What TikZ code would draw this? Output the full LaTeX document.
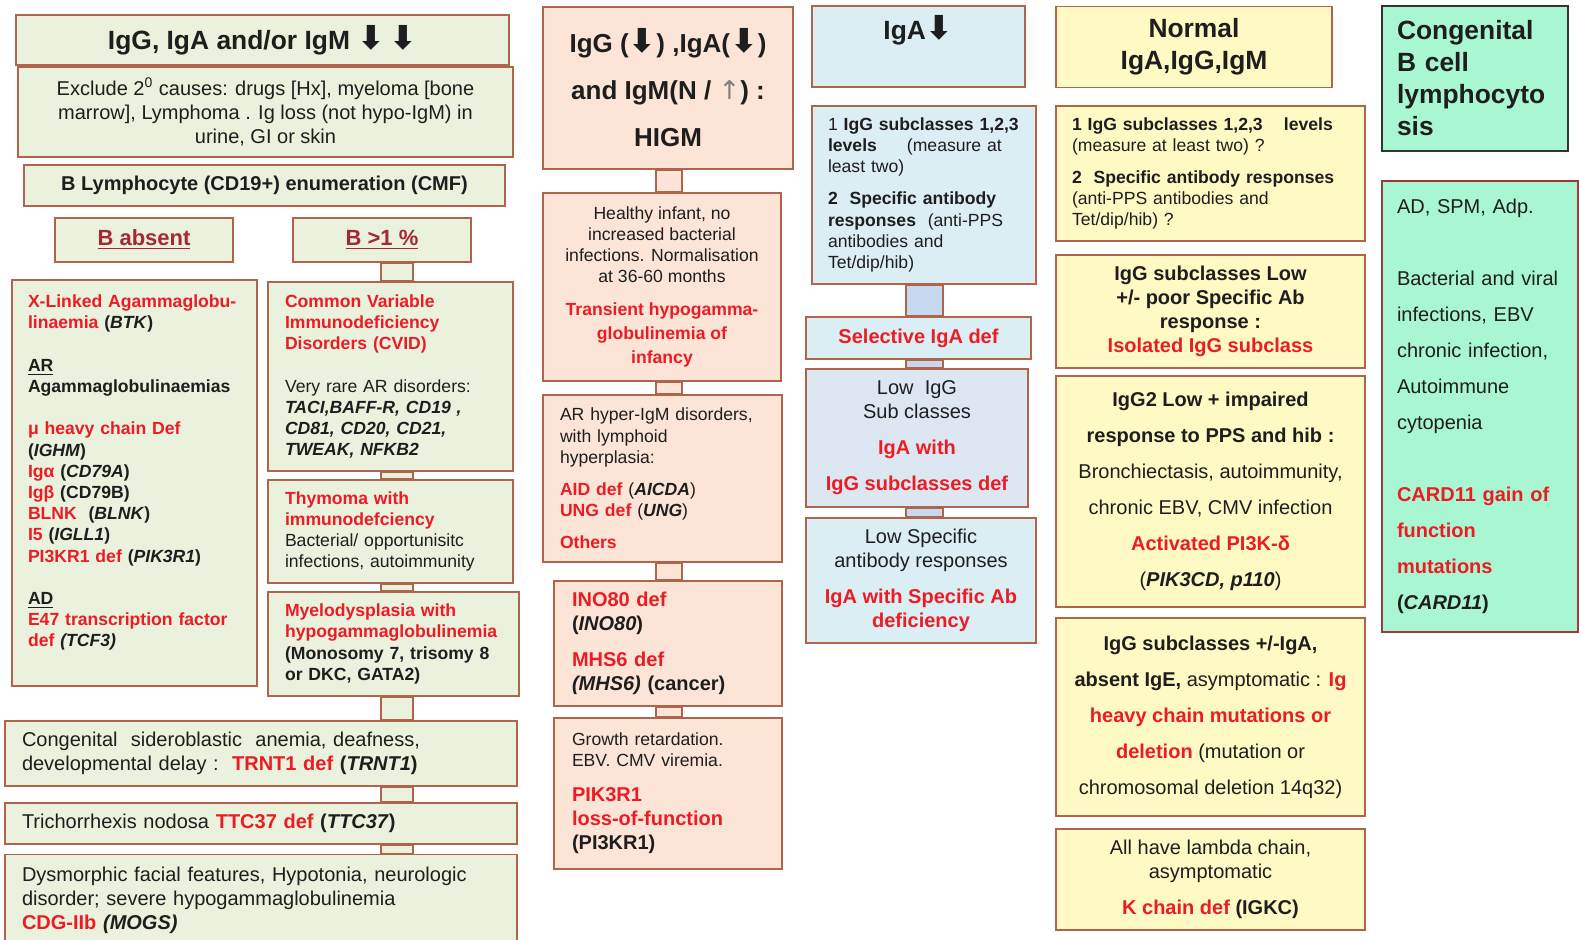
\documentclass[tikz,border=0pt]{standalone}
\usepackage{fontspec}
\setmainfont{Liberation Sans}
\newfontfamily\arrowfnt{DejaVu Sans}
\usepackage{xcolor}
\usepackage{tikz}
\usetikzlibrary{calc}

\definecolor{brd}{RGB}{176,100,76}
\definecolor{cardbrd}{RGB}{150,62,62}
\definecolor{grnfill}{RGB}{234,241,221}
\definecolor{pchfill}{RGB}{252,229,214}
\definecolor{blufill}{RGB}{219,238,243}
\definecolor{blufillb}{RGB}{221,231,241}
\definecolor{blubar}{RGB}{198,217,240}
\definecolor{yelfill}{RGB}{255,249,196}
\definecolor{mntfill}{RGB}{168,247,210}
\definecolor{hotred}{RGB}{236,28,36}
\definecolor{darkred}{RGB}{166,40,52}
\definecolor{ink}{RGB}{30,30,30}

\newcommand{\rtx}[1]{\textcolor{hotred}{\bfseries #1}}
\newcommand{\padb}[1]{\rule[-#1]{0pt}{#1}}
\newcommand{\dnarr}{{\arrowfnt\bfseries\fontsize{16.5}{16}\selectfont ⬇}}
\newcommand{\medsz}{\fontsize{10}{12}\selectfont}

\begin{document}
\begin{tikzpicture}[x=0.5pt, y=-0.5pt,
    box/.style={draw=brd, line width=0.9pt, rectangle, inner sep=0pt, text=ink},
    cbox/.style={box, align=center},
    lbox/.style={box, align=left, execute at begin node={\hyphenpenalty=10000\exhyphenpenalty=10000}},
    grn/.style={fill=grnfill},
    pch/.style={fill=pchfill},
    blu/.style={fill=blufill},
    yel/.style={fill=yelfill},
    mnt/.style={fill=mntfill},
    sm/.style={font=\fontsize{8.8}{10.6}\selectfont},
    smb/.style={font=\fontsize{8.8}{10.6}\selectfont\bfseries},
    nm/.style={font=\fontsize{10}{12}\selectfont},
    nmb/.style={font=\fontsize{10}{12}\selectfont\bfseries},
    lg/.style={font=\fontsize{10}{18}\selectfont},
    hd/.style={font=\fontsize{13.2}{16}\selectfont\bfseries},
    bar/.style={draw=brd, line width=0.9pt}
]
    \useasboundingbox (0,0) rectangle (1579,940);

    % Column 1: IgG, IgA and/or IgM low
    \node[cbox, grn, hd, minimum width=246.5pt, minimum height=25pt] (title) at (262.5,40) {IgG, IgA and/or IgM \dnarr\,\dnarr};
    \node[cbox, grn, nm, minimum width=247.5pt, minimum height=45pt] (excl) at (265.5,112) {Exclude 2\textsuperscript{0} causes: drugs [Hx], myeloma [bone\\ marrow], Lymphoma . Ig loss (not hypo-IgM) in\\ urine, GI or skin};
    \node[box, grn, nmb, minimum width=240.5pt, minimum height=20.5pt] (bcount) at (264.5,185.5) {B Lymphocyte (CD19+) enumeration (CMF)};
    \node[box, grn, font=\fontsize{11}{13}\selectfont\bfseries, text=darkred, minimum width=89pt, minimum height=22pt] (babs) at (144,240) {\underline{B absent}};
    \node[box, grn, font=\fontsize{11}{13}\selectfont\bfseries, text=darkred, minimum width=89pt, minimum height=22pt] (bgt) at (382,240) {\underline{B >1 \%}};

    \node[lbox, grn, smb, inner xsep=8pt, text width=106.5pt, minimum height=203pt] (xla) at (134.5,483) {\rtx{X-Linked Agammaglobu-}\\ \rtx{linaemia} (\textit{BTK})\\[10.6pt] \underline{AR}\\ Agammaglobulinaemias\\[10.6pt] \rtx{μ heavy chain Def}\\ (\textit{IGHM})\\ \rtx{Igα} (\textit{CD79A})\\ \rtx{Igβ} (CD79B)\\ \rtx{BLNK}\ \ (\textit{BLNK})\\ \rtx{I5} (\textit{IGLL1})\\ \rtx{PI3KR1 def} (\textit{PIK3R1})\\[10.6pt] \underline{AD}\\ \rtx{E47 transcription factor}\\ \rtx{def} \textit{(TCF3)}\padb{12pt}};

    \node[lbox, grn, sm, inner xsep=8.5pt, text width=105.5pt, minimum height=94.5pt] (cvid) at (390.5,376.5) {\rtx{Common Variable}\\ \rtx{Immunodeficiency}\\ \rtx{Disorders (CVID)}\\[10.6pt] Very rare AR disorders:\\ \textbf{\textit{TACI,BAFF-R, CD19 ,}}\\ \textbf{\textit{CD81, CD20, CD21,}}\\ \textbf{\textit{TWEAK, NFKB2}}};
    \node[lbox, grn, sm, inner xsep=8.5pt, text width=105.5pt, minimum height=51.5pt] (thym) at (390.5,531.5) {\rtx{Thymoma with}\\ \rtx{immunodefciency}\\ Bacterial/ opportunisitc\\ infections, autoimmunity};
    \node[lbox, grn, sm, inner xsep=8.5pt, text width=108.5pt, minimum height=52pt] (myelo) at (393.5,644) {\rtx{Myelodysplasia with}\\ \rtx{hypogammaglobulinemia}\\ \textbf{(Monosomy 7, trisomy 8}\\ \textbf{or DKC, GATA2)}};

    \node[lbox, grn, nm, inner xsep=8.5pt, text width=239pt, minimum height=32.5pt] (trnt) at (261,753.5) {Congenital\ \ sideroblastic\ \ anemia, deafness,\\ developmental delay :\ \ \rtx{TRNT1 def} \textbf{(\textit{TRNT1})}};
    \node[lbox, grn, nm, inner xsep=8.5pt, text width=239pt, minimum height=20.5pt] (ttc) at (261,823.5) {Trichorrhexis nodosa \rtx{TTC37 def} \textbf{(\textit{TTC37})}};
    \node[lbox, grn, nm, inner xsep=8.5pt, text width=239pt, minimum height=45.5pt] (mogs) at (261,900) {Dysmorphic facial features, Hypotonia, neurologic\\ disorder; severe hypogammaglobulinemia\\ \rtx{CDG-IIb} \textbf{\textit{(MOGS)}}};

    % Column 2: HIGM
    \node[cbox, pch, font=\fontsize{13}{23.5}\selectfont\bfseries, minimum width=125pt, minimum height=81pt] (higm) at (668,88) {IgG (\dnarr) ,IgA(\dnarr)\\ and IgM(N / {\arrowfnt\mdseries\color{gray}↑}) :\\ HIGM};
    \node[cbox, pch, sm, minimum width=119pt, minimum height=94pt] (trans) at (662,287) {Healthy infant, no\\ increased bacterial\\ infections. Normalisation\\ at 36-60 months\\[5.9pt] \rtx{Transient hypogamma-}\\[1.4pt] \rtx{globulinemia of}\\[1.4pt] \rtx{infancy}};
    \node[lbox, pch, sm, inner xsep=8.5pt, text width=102.5pt, minimum height=83.5pt] (arhigm) at (662.5,478.5) {AR hyper-IgM disorders,\\ with lymphoid\\ hyperplasia:\\[5.4pt] \rtx{AID def} (\textbf{\textit{AICDA}})\\ \rtx{UNG def} (\textbf{\textit{UNG}})\\[5.4pt] \rtx{Others}};
    \node[lbox, pch, nmb, inner xsep=9pt, text width=96pt, minimum height=62.5pt] (ino) at (668,643.5) {\rtx{INO80 def}\\ (\textit{INO80})\\[6pt] \rtx{MHS6 def}\\ \textit{(MHS6)} (cancer)};
    \node[lbox, pch, sm, inner xsep=9pt, text width=96pt, minimum height=75.5pt] (pik) at (668,793.5) {Growth retardation.\\ EBV. CMV viremia.\\[6.9pt] {\medsz\rtx{PIK3R1}}\\[1.4pt] {\medsz\rtx{loss-of-function}}\\[1.4pt] {\medsz\textbf{(PI3KR1)}}};

    % Column 3: IgA low
    \node[box, blu, hd, text height=17pt, text depth=23.5pt, minimum width=106.5pt, minimum height=40.5pt] (iga) at (918.5,46.5) {IgA\dnarr};
    \node[lbox, blu, sm, inner xsep=8pt, text width=96pt, minimum height=89pt] (igasub) at (924,195) {1 \textbf{IgG subclasses 1,2,3}\\ \textbf{levels}\hspace{15pt}(measure at\\ least two)\\[5.4pt] \textbf{2\ \ Specific antibody}\\ \textbf{responses}\ \ (anti-PPS\\ antibodies and\\ Tet/dip/hib)};
    \node[box, blu, nmb, text=hotred, minimum width=112.5pt, minimum height=21pt] (sigad) at (918.5,338) {Selective IgA def};
    \node[cbox, fill=blufillb, nm, minimum width=111pt, minimum height=69pt] (lowsub) at (917,438) {Low\ \ IgG\\ Sub classes\\[6pt] \rtx{IgA with}\\[6pt] \rtx{IgG subclasses def}};
    \node[cbox, blu, nm, minimum width=115pt, minimum height=62.5pt] (lowspec) at (921,580.5) {Low Specific\\ antibody responses\\[6pt] \rtx{IgA with Specific Ab}\\ \rtx{deficiency}};

    % Column 4: normal IgA, IgG, IgM
    \node[cbox, yel, hd, minimum width=138pt, minimum height=40.5pt] (norm) at (1194,47) {Normal\\ IgA,IgG,IgM};
    \node[lbox, yel, sm, inner xsep=8pt, text width=138.5pt, minimum height=67.5pt] (nsub) at (1210.5,173.5) {\textbf{1 IgG subclasses 1,2,3\hspace{1.2em}levels}\\ (measure at least two) ?\\[5.4pt] \textbf{2\ \ Specific antibody responses}\\ (anti-PPS antibodies and\\ Tet/dip/hib) ?};
    \node[cbox, yel, nmb, minimum width=154.5pt, minimum height=56.5pt] (isol) at (1210.5,311.5) {IgG subclasses Low\\ +/- poor Specific Ab\\ response :\\ \textcolor{hotred}{Isolated IgG subclass}};
    \node[cbox, yel, lg, minimum width=154.5pt, minimum height=115.5pt] (pi3k) at (1210.5,491.5) {\textbf{IgG2 Low + impaired}\\ \textbf{response to PPS and hib :}\\ Bronchiectasis, autoimmunity,\\ chronic EBV, CMV infection\\ \rtx{Activated PI3K-δ}\\ (\textbf{\textit{PIK3CD, p110}})};
    \node[cbox, yel, lg, minimum width=154.5pt, minimum height=99pt] (heavy) at (1210.5,717) {\textbf{IgG subclasses +/-IgA,}\\ \textbf{absent IgE,} asymptomatic : \rtx{Ig}\\ \rtx{heavy chain mutations or}\\ \rtx{deletion} (mutation or\\ chromosomal deletion 14q32)};
    \node[cbox, yel, nm, minimum width=154.5pt, minimum height=50.5pt] (kappa) at (1210.5,879.5) {All have lambda chain,\\ asymptomatic\\[6pt] \rtx{K chain def} \textbf{(IGKC)}};

    % Column 5: congenital B cell lymphocytosis
    \node[lbox, mnt, hd, draw=black!80, inner xsep=7.5pt, text width=78pt, minimum height=72.5pt] (cbcl) at (1475,78.5) {Congenital\\ B cell\\ lymphocyto\\ sis};
    \node[lbox, mnt, lg, draw=cardbrd, inner xsep=7.5pt, text width=83pt, minimum height=225.5pt] (card) at (1480,406.5) {AD, SPM, Adp.\\[18pt] Bacterial and viral\\ infections, EBV\\ chronic infection,\\ Autoimmune\\ cytopenia\\[18pt] \rtx{CARD11 gain of}\\ \rtx{function}\\ \rtx{mutations}\\ \textbf{(\textit{CARD11})}};

    % Connecting bars
    \coordinate (sp1) at (397,0);
    \coordinate (sp2) at (669,0);
    \coordinate (sp3) at (924.5,0);
    \foreach \a/\b in {bgt/cvid, cvid/thym, thym/myelo, myelo/trnt, trnt/ttc, ttc/mogs}
        \draw[bar, fill=grnfill] ($(\a.south -| sp1)+(-16,0)$) rectangle ($(\b.north -| sp1)+(16,0)$);
    \foreach \a/\b in {higm/trans, trans/arhigm, arhigm/ino, ino/pik}
        \draw[bar, fill=pchfill] ($(\a.south -| sp2)+(-13,0)$) rectangle ($(\b.north -| sp2)+(13,0)$);
    \foreach \a/\b in {igasub/sigad, sigad/lowsub, lowsub/lowspec}
        \draw[bar, fill=blubar] ($(\a.south -| sp3)+(-18.5,0)$) rectangle ($(\b.north -| sp3)+(18.5,0)$);
\end{tikzpicture}
\end{document}
